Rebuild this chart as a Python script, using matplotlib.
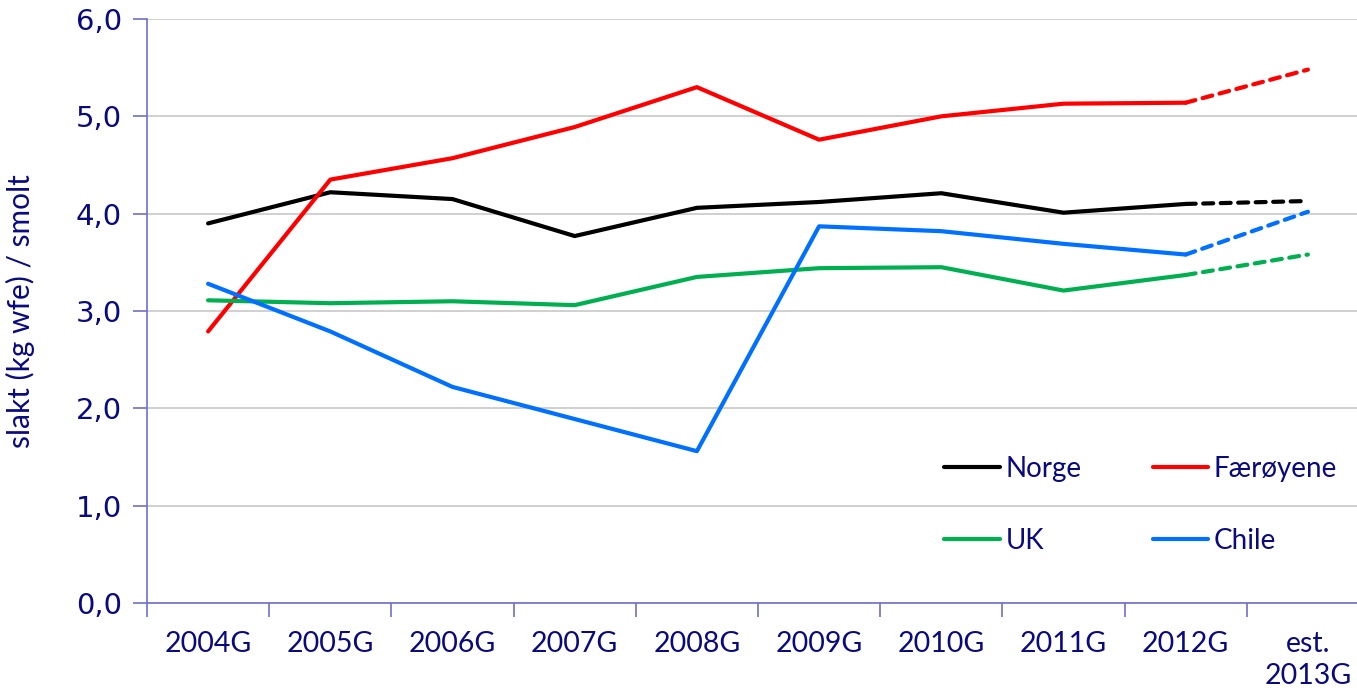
import matplotlib
matplotlib.use("Agg")
import matplotlib.pyplot as plt
from matplotlib.lines import Line2D

categories = ["2004G", "2005G", "2006G", "2007G", "2008G", "2009G", "2010G", "2011G", "2012G", "est.\n2013G"]
norge = [3.90, 4.22, 4.15, 3.77, 4.06, 4.12, 4.21, 4.01, 4.10, 4.13]
faeroyene = [2.79, 4.35, 4.57, 4.89, 5.30, 4.76, 5.00, 5.13, 5.14, 5.48]
uk = [3.11, 3.08, 3.10, 3.06, 3.35, 3.44, 3.45, 3.21, 3.37, 3.58]
chile = [3.28, 2.79, 2.22, 1.89, 1.56, 3.87, 3.82, 3.69, 3.58, 4.02]

series = [("Norge", norge, "#000000"), ("Færøyene", faeroyene, "#FF0000"),
          ("UK", uk, "#00B050"), ("Chile", chile, "#0070FF")]

navy = "#0A0A80"
axis_col = "#7070C8"

fig = plt.figure(figsize=(13.57, 6.97), dpi=100)
ax = fig.add_axes([147/1357, 1-603/697, 1222/1357, (603-19)/697])

x = list(range(len(categories)))
for name, vals, col in series:
    ax.plot(x[:9], vals[:9], color=col, lw=3.0, solid_capstyle="round", solid_joinstyle="round", zorder=3)
    ax.plot(x[8:], vals[8:], color=col, lw=3.0, ls=(0, (2.4, 1.8)), dash_capstyle="round", zorder=3)

ax.set_xlim(-0.5, 9.5)
ax.set_ylim(0, 6)
ax.set_yticks([0, 1, 2, 3, 4, 5, 6])
ax.set_yticklabels(["0,0", "1,0", "2,0", "3,0", "4,0", "5,0", "6,0"], fontfamily="DejaVu Sans", fontsize=21, color=navy)
ax.set_xticks(x)
ax.set_xticklabels(categories, fontfamily="Lato", fontsize=20.5, color=navy, linespacing=1.32)
ax.set_xticks([i + 0.5 for i in range(-1, 10)], minor=True)
ax.tick_params(axis="x", which="major", length=0, pad=20)
ax.tick_params(axis="x", which="minor", length=10, color=axis_col, width=1.2, direction="out")
ax.tick_params(axis="y", length=10, color=axis_col, width=1.2, direction="out", pad=8)
ax.grid(axis="y", color="#C8C8C8", lw=1.2, zorder=0)
for s in ["top", "right"]:
    ax.spines[s].set_visible(False)
for s in ["left", "bottom"]:
    ax.spines[s].set_color(axis_col)
    ax.spines[s].set_linewidth(1.2)
ax.set_ylabel("slakt (kg wfe) / smolt", fontfamily="Lato", fontsize=21.5, color=navy, labelpad=29)

order = [0, 2, 1, 3]
handles = [Line2D([], [], color=series[i][2], lw=3.0, solid_capstyle="round") for i in order]
labels = [series[i][0] for i in order]
leg = ax.legend(handles, labels, ncol=2, loc="upper left", bbox_to_anchor=(0.632, 0.295),
                frameon=False, prop={"family": "Lato", "size": 20}, handlelength=2.0,
                handletextpad=0.2, columnspacing=2.56, labelspacing=1.66)
for t in leg.get_texts():
    t.set_color(navy)

fig.savefig("out.png", dpi=100)
